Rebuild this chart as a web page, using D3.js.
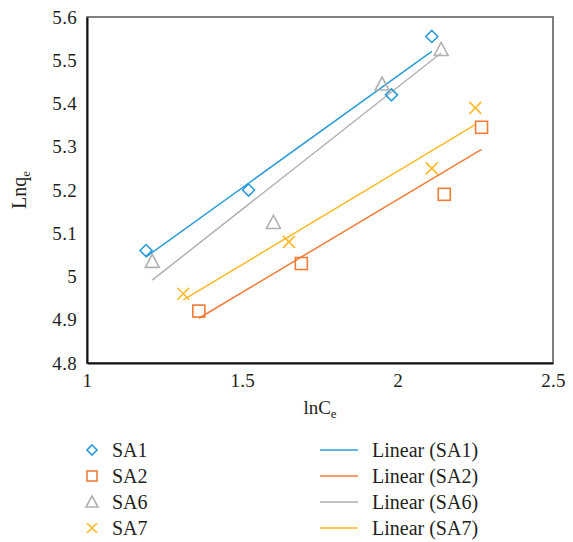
<!DOCTYPE html>
<html>
<head>
<meta charset="utf-8">
<script src="https://cdn.jsdelivr.net/npm/d3@7"></script>
<style>
  body { margin: 0; background: #fff; }
  svg text { font-family: "Liberation Serif", "Times New Roman", "DejaVu Serif", serif; fill: #231f20; }
</style>
</head>
<body>
<div id="chart"></div>
<script>
// values
var seriesNames = ["SA1", "SA2", "SA6", "SA7"];
var sa1X = [1.19, 1.52, 1.98, 2.11];
var sa1Y = [5.06, 5.20, 5.42, 5.555];
var sa2X = [1.36, 1.69, 2.15, 2.27];
var sa2Y = [4.92, 5.03, 5.19, 5.345];
var sa6X = [1.21, 1.60, 1.95, 2.14];
var sa6Y = [5.035, 5.125, 5.445, 5.525];
var sa7X = [1.31, 1.65, 2.11, 2.25];
var sa7Y = [4.96, 5.08, 5.25, 5.39];
var xTicks = [1, 1.5, 2, 2.5];
var yTicks = [4.8, 4.9, 5, 5.1, 5.2, 5.3, 5.4, 5.5, 5.6];

var colors = ["#2a9bd7", "#f07c36", "#b1b1b1", "#fdb827"];
var shapes = ["diamond", "square", "triangle", "cross"];
var allX = [sa1X, sa2X, sa6X, sa7X];
var allY = [sa1Y, sa2Y, sa6Y, sa7Y];
var serif = '"Liberation Serif", "Times New Roman", "DejaVu Serif", serif';

var W = 573, H = 542;
var margin = { left: 87, top: 17, right: 20, bottom: 179 };
var width = W - margin.left - margin.right;
var height = H - margin.top - margin.bottom;

var svg = d3.select("#chart").append("svg").attr("width", W).attr("height", H);
var g = svg.append("g").attr("transform", "translate(" + margin.left + "," + margin.top + ")");

var x = d3.scaleLinear().domain([1, 2.5]).range([0, width]);
var y = d3.scaleLinear().domain([4.8, 5.6]).range([height, 0]);

// frame
g.append("rect").attr("width", width).attr("height", height)
  .attr("fill", "none").attr("stroke", "#555").attr("stroke-width", 1.5);

var xAxis = g.append("g").attr("transform", "translate(0," + height + ")")
  .call(d3.axisBottom(x).tickValues(xTicks).tickSize(0).tickPadding(11).tickFormat(d3.format("")));
var yAxis = g.append("g")
  .call(d3.axisLeft(y).tickValues(yTicks).tickSize(0).tickPadding(10).tickFormat(d3.format("")));
[xAxis, yAxis].forEach(function(a) {
  a.attr("font-family", null).attr("font-size", null);
  a.select(".domain").attr("stroke", "#111").attr("stroke-width", 2);
  a.selectAll("text").style("font-size", "19px").style("font-family", serif).style("letter-spacing", "0.3px")
    .attr("fill", "#231f20");
});

// axis titles
var xt = g.append("text").attr("x", width / 2).attr("y", height + 51)
  .attr("text-anchor", "middle").style("font-size", "19px").style("font-family", serif);
xt.append("tspan").text("lnC");
xt.append("tspan").style("font-size", "13px").attr("dy", 4).text("e");

var yt = g.append("text").attr("transform", "translate(" + (-61) + "," + (height / 2) + ") rotate(-90)")
  .attr("text-anchor", "middle").style("font-size", "20px").style("font-family", serif);
yt.append("tspan").text("Lnq");
yt.append("tspan").style("font-size", "13px").attr("dy", 4).text("e");

function fit(xs, ys) {
  var mx = d3.mean(xs), my = d3.mean(ys);
  var sxy = d3.sum(xs, function(v, i) { return (v - mx) * (ys[i] - my); });
  var sxx = d3.sum(xs, function(v) { return (v - mx) * (v - mx); });
  var b = sxy / sxx;
  return { a: my - b * mx, b: b };
}

function drawMarker(sel, shape, color, size) {
  var s = size / 2;
  if (shape === "diamond") {
    sel.append("path").attr("d", "M0," + (-s - 1) + "L" + (s + 1) + ",0L0," + (s + 1) + "L" + (-s - 1) + ",0Z");
  } else if (shape === "square") {
    sel.append("rect").attr("x", -s).attr("y", -s).attr("width", size).attr("height", size);
  } else if (shape === "triangle") {
    sel.append("path").attr("d", "M0," + (-s - 1) + "L" + (s + 1) + "," + (s) + "L" + (-s - 1) + "," + (s) + "Z");
  } else {
    sel.append("path").attr("d", "M" + (-s) + "," + (-s) + "L" + s + "," + s + "M" + s + "," + (-s) + "L" + (-s) + "," + s);
  }
  sel.selectAll("*").attr("fill", "none").attr("stroke", color).attr("stroke-width", 1.6);
}

// trend lines
var line = d3.line().x(function(d) { return x(d[0]); }).y(function(d) { return y(d[1]); });
allX.forEach(function(xs, k) {
  var f = fit(xs, allY[k]);
  var x0 = d3.min(xs), x1 = d3.max(xs);
  g.append("path").datum([[x0, f.a + f.b * x0], [x1, f.a + f.b * x1]])
    .attr("d", line).attr("fill", "none").attr("stroke", colors[k]).attr("stroke-width", 1.5);
});

// markers
allX.forEach(function(xs, k) {
  var pts = xs.map(function(v, i) { return [v, allY[k][i]]; });
  g.selectAll("g.m" + k).data(pts).enter().append("g")
    .attr("transform", function(d) { return "translate(" + x(d[0]) + "," + y(d[1]) + ")"; })
    .each(function() { drawMarker(d3.select(this), shapes[k], colors[k], shapes[k] === "diamond" ? 10 : 12); });
});

// legend
var legendY = [450, 476, 502, 528];
seriesNames.forEach(function(name, k) {
  var m = svg.append("g").attr("transform", "translate(92," + legendY[k] + ")");
  drawMarker(m, shapes[k], colors[k], shapes[k] === "diamond" ? 8 : 10);
  svg.append("text").attr("x", 112).attr("y", legendY[k] + 7)
    .style("font-size", "20px").style("font-family", serif).text(name);
  svg.append("line").attr("x1", 320).attr("x2", 358).attr("y1", legendY[k]).attr("y2", legendY[k])
    .attr("stroke", colors[k]).attr("stroke-width", 1.5);
  svg.append("text").attr("x", 372).attr("y", legendY[k] + 7)
    .style("font-size", "20px").style("font-family", serif).text("Linear (" + name + ")");
});
</script>
</body>
</html>
